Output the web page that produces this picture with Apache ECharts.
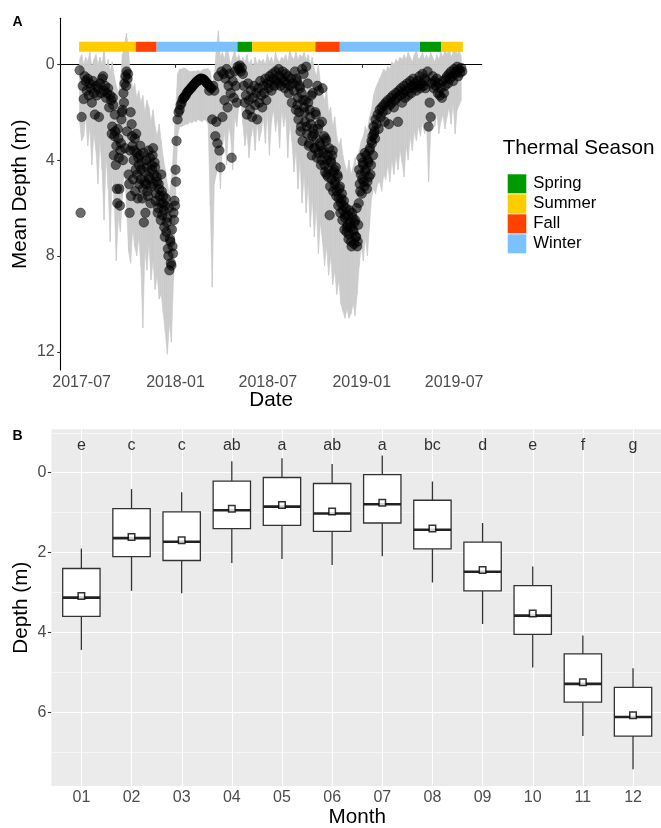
<!DOCTYPE html>
<html>
<head>
<meta charset="utf-8">
<script src="https://cdn.jsdelivr.net/npm/echarts@6/dist/echarts.min.js"></script>
<style>
  html, body { margin: 0; padding: 0; background: #fff; }
  #chart { width: 661px; height: 828px; }
</style>
</head>
<body>
<div id="chart"></div>
<script>
// ---- Panel A data ----
// daily mean depth, one value every 2 days from 2017-06-27
const depthStart = '2017-06-27'
const depthStepDays = 2
const meanDepth = [
  0.25, 6.2, 2.2, 0.9, 1.45, 0.5, 0.7, 1.1, 0.6, 1.3,
  0.8, 1.0, 1.6, 0.7, 1.2, 2.1, 0.9, 1.3, 1.0, 2.2,
  0.8, 1.2, 0.6, 0.5, 1.1, 0.9, 1.4, 1.2, 1.0, 1.8,
  1.3, 1.5, 2.6, 1.7, 3.0, 2.8, 3.4, 5.8, 3.1, 5.2,
  3.6, 2.3, 1.9, 1.2, 0.8, 0.5, 0.3, 0.6, 4.6, 6.2,
  2.0, 2.5, 3.4, 4.0, 3.1, 4.4, 3.7, 5.6, 4.2, 3.8,
  4.8, 4.1, 5.2, 6.6, 4.5, 5.0, 4.3, 5.5, 4.7, 3.9,
  5.1, 4.4, 3.5, 4.6, 4.3, 5.4, 4.9, 6.0, 5.2, 5.8,
  4.6, 6.3, 5.5, 6.8, 5.9, 7.0, 6.4, 8.0, 8.6, 7.4,
  8.4, 7.6, 6.2, 5.7, 4.4, 3.2, 2.3, 2.0, 1.9, 1.7,
  1.6, 1.45, 1.4, 1.35, 1.3, 1.2, 1.15, 1.1, 1.05, 1.0,
  0.95, 0.9, 0.85, 0.8, 0.75, 0.7, 0.7, 0.65, 0.6, 0.6,
  0.6, 0.62, 0.65, 0.7, 0.75, 0.8, 0.85, 1.1, 0.95, 1.0,
  2.3, 0.9, 1.1, 3.0, 2.4, 3.3, 0.5, 3.6, 4.3, 0.3,
  2.2, 0.4, 1.5, 0.6, 0.2, 1.8, 0.9, 0.4, 1.2, 3.9,
  0.7, 1.4, 0.3, 0.9, 1.6, 0.1, 0.2, 0.05, 0.3, 0.15,
  0.4, 0.9, 1.6, 1.3, 2.1, 0.8, 1.5, 1.9, 1.1, 2.2,
  1.4, 0.9, 1.7, 1.2, 2.3, 1.0, 1.6, 0.7, 1.3, 1.8,
  0.9, 1.2, 0.6, 1.5, 0.8, 1.0, 0.5, 0.7, 1.1, 0.4,
  0.6, 0.9, 0.3, 0.7, 0.8, 0.2, 0.5, 0.9, 0.6, 0.3,
  0.7, 1.0, 0.4, 0.8, 0.5, 1.2, 0.9, 0.6, 1.6, 0.8,
  1.1, 0.3, 1.9, 0.7, 1.4, 2.0, 1.0, 2.6, 0.2, 1.5,
  1.8, 2.4, 0.1, 2.9, 1.6, 3.3, 2.2, 1.3, 3.0, 2.7,
  3.5, 2.0, 3.1, 0.9, 3.7, 2.5, 3.4, 4.0, 1.0, 3.6,
  4.2, 3.1, 4.6, 3.8, 4.4, 6.3, 4.0, 4.8, 3.6, 4.5,
  5.0, 4.3, 5.3, 4.7, 5.6, 5.1, 5.8, 5.4, 6.1, 5.7,
  6.4, 6.0, 6.8, 6.3, 7.1, 6.6, 7.4, 6.2, 6.9, 7.5,
  6.5, 7.2, 7.6, 6.7, 4.4, 5.3, 3.9, 4.8, 4.2, 5.1,
  4.5, 3.8, 4.9, 4.1, 3.6, 4.6, 3.2, 3.0, 2.6, 2.8,
  2.3, 2.5, 2.1, 2.7, 1.9, 2.2, 1.8, 2.0, 1.7, 2.4,
  1.6, 1.9, 1.5, 2.5, 1.7, 1.4, 1.6, 1.3, 1.8, 1.5,
  1.2, 1.4, 2.4, 1.1, 1.3, 1.0, 1.6, 1.2, 0.9, 1.4,
  1.1, 0.8, 1.3, 1.0, 0.7, 1.2, 0.9, 0.6, 1.0, 0.8,
  1.1, 0.7, 0.9, 0.5, 1.0, 0.8, 0.4, 0.9, 0.6, 1.0,
  0.7, 0.3, 2.6, 1.6, 2.2, 0.8, 0.5, 1.0, 0.7, 0.9,
  0.6, 1.2, 0.8, 1.3, 1.0, 1.4, 0.7, 1.2, 0.9, 0.6,
  0.5, 0.8, 0.4, 0.6, 0.3, 0.5, 0.7, 0.2, 0.4, 0.3,
  0.1, 0.5, 0.2, 0.35, 0.15, 0.3
]
// in-between days of the two deep periods, every 2 days
const trough1Start = '2017-08-29'
const trough1Depth = [
  2.9, 1.4, 3.8, 2.1, 4.2, 5.2, 2.7, 3.9, 5.9, 3.3,
  2.0, 4.0, 1.6, 3.5, 0.9, 2.8, 0.4, 5.0, 3.6, 5.5,
  3.0, 4.8, 3.6, 5.3, 2.9, 4.6, 3.9, 5.0, 3.4, 4.4,
  5.6, 3.7, 4.9, 6.2, 4.0, 5.3, 3.6, 4.8, 5.8, 4.2,
  3.8, 5.0, 4.1, 5.7, 4.7, 6.2, 5.0, 5.5, 6.5, 5.3,
  5.8, 6.1, 7.2, 5.6, 6.6, 7.7, 6.0, 7.3, 8.3, 6.9,
  7.9, 6.5, 5.9, 4.9
]
const trough2Start = '2018-08-26'
const trough2Depth = [
  0.6, 1.7, 2.3, 0.9, 2.8, 1.2, 3.2, 0.4, 2.0, 1.5,
  2.6, 0.8, 3.4, 1.9, 2.5, 3.8, 1.2, 2.9, 3.5, 2.1,
  3.9, 2.7, 1.1, 3.3, 4.2, 2.4, 3.7, 3.0, 4.5, 3.2,
  4.0, 4.7, 3.5, 5.1, 4.1, 3.8, 5.3, 4.4, 4.9, 5.5,
  4.6, 5.9, 5.2, 6.2, 5.6, 6.5, 5.9, 6.9, 6.3, 7.0,
  6.7, 7.3, 6.1, 6.8, 7.6, 6.4, 7.0, 6.6, 7.2, 6.0,
  7.4, 5.8, 5.0, 4.6, 5.4, 4.1, 4.9, 3.7, 4.4, 5.2,
  4.0, 4.7, 3.5, 4.2, 3.3, 3.8, 2.9, 3.1
]

// depth range band (shallow / deep edge), one value every 4 days from 2017-06-27
const ribbonStart = '2017-06-27'
const ribbonStepDays = 4
const ribbonMin = [
  -0.2, -0.4, 0.0, -0.3, -0.1, -0.5, 0.1, -0.2, -0.4, 0.0,
  -0.3, 0.0, -0.6, 0.2, -0.2, 0.3, -0.1, 0.5, 0.9, 1.2,
  0.6, -0.4, -0.8, -1.3, -0.5, 0.4, 1.0, 0.8, 1.4, 1.1,
  1.6, 1.3, 2.0, 1.5, 1.8, 2.4, 1.9, 2.6, 3.0, 2.5,
  3.2, 3.9, 4.4, 5.0, 5.4, 4.8, 3.6, 2.0, 0.4, 0.2,
  0.2, 0.15, 0.18, 0.25, 0.3, 0.3, 0.28, 0.3, 0.25, 0.3,
  0.25, 0.2, 0.2, 0.18, 0.3, 0.9, 0.5, -0.6, -1.4, -0.3,
  -0.5, -0.2, -0.8, -0.4, 0.0, -0.3, -0.6, -0.2, -0.4, -0.1,
  -0.3, -0.1, -0.4, 0.0, -0.2, 0.1, -0.3, 0.0, -0.2, -0.1,
  -0.2, 0.0, -0.4, -0.1, -0.3, 0.0, -0.5, -0.2, -0.1, -0.3,
  -0.2, -0.4, -0.1, -0.6, -0.3, -0.2, -0.5, -0.2, -0.4, -0.3,
  -0.5, -0.2, -0.4, 0.0, -0.3, 0.2, 0.5, 0.0, 0.8, 1.2,
  1.5, 1.0, 2.0, 1.8, 2.6, 2.2, 3.0, 3.4, 3.1, 3.8,
  4.2, 4.5, 4.0, 4.6, 4.3, 3.9, 4.4, 3.6, 3.2, 3.0,
  2.6, 2.8, 2.2, 1.9, 1.3, 1.0, 0.8, 0.6, 0.4, 0.2,
  0.3, 0.1, 0.2, -0.1, 0.0, -0.2, -0.1, -0.3, -0.2, -0.4,
  -0.2, -0.5, -0.3, -0.1, -0.4, -0.6, -0.2, -0.3, -0.5, -0.2,
  -0.4, -0.2, -0.5, -0.3, -0.1, -0.4, -0.2, -0.5, -0.3, -0.6,
  -0.4, -0.7, -0.3, -0.5, -0.8, -0.4, -0.6, -0.3
]
const ribbonMax = [
  2.4, 3.2, 3.0, 2.2, 3.4, 2.6, 4.2, 2.9, 3.6, 5.0,
  3.2, 4.4, 6.5, 3.8, 5.2, 7.4, 4.6, 5.8, 8.2, 6.4,
  7.0, 5.5, 4.2, 6.0, 7.8, 8.3, 6.9, 7.6, 8.0, 7.2,
  8.4, 11.0, 7.8, 8.6, 7.5, 9.0, 8.2, 9.4, 8.8, 9.8,
  9.6, 10.4, 11.2, 12.1, 10.8, 11.6, 9.0, 5.6, 3.0, 2.6,
  2.6, 2.55, 2.5, 2.5, 2.4, 2.45, 2.35, 2.4, 2.3, 2.35,
  2.4, 2.3, 2.35, 2.5, 5.9, 9.3, 5.0, 4.6, 3.8, 5.2,
  3.5, 2.8, 4.2, 2.6, 3.0, 4.4, 2.2, 2.6, 1.8, 1.4,
  2.5, 3.4, 2.8, 3.9, 3.0, 2.6, 3.6, 2.4, 3.2, 2.8,
  2.2, 3.3, 2.0, 3.8, 2.4, 1.9, 2.8, 2.2, 3.5, 1.9,
  2.6, 2.1, 3.9, 2.4, 3.2, 4.5, 3.6, 5.2, 4.0, 5.8,
  4.6, 6.2, 5.0, 6.8, 5.6, 7.2, 6.0, 7.9, 6.6, 7.4,
  8.4, 7.6, 8.8, 8.0, 9.2, 8.6, 9.6, 9.0, 10.0, 10.3,
  10.6, 10.2, 10.6, 10.4, 10.0, 10.5, 9.6, 8.4, 7.6, 8.2,
  7.2, 8.0, 6.8, 5.6, 5.2, 5.4, 5.0, 4.9, 5.3, 4.6,
  4.8, 4.2, 4.9, 4.0, 4.6, 3.8, 4.4, 3.6, 4.1, 4.7,
  3.4, 4.0, 3.0, 3.6, 2.8, 3.2, 2.6, 3.0, 2.4, 2.9,
  2.6, 4.9, 2.8, 2.2, 2.6, 2.0, 2.9, 2.4, 2.1, 2.7,
  2.2, 1.8, 2.5, 1.6, 2.9, 1.9, 1.7, 1.5
]

// thermal season periods
const seasonNames = ['Spring', 'Summer', 'Fall', 'Winter']
const seasonColors = ['#009a00', '#ffcc00', '#ff4200', '#7cc1ff']
const periodSeason = ['Summer', 'Fall', 'Winter', 'Spring', 'Summer', 'Fall', 'Winter', 'Spring', 'Summer']
const periodStart = ['2017-06-26', '2017-10-15', '2017-11-25', '2018-05-02', '2018-05-31', '2018-10-02', '2018-11-19', '2019-04-25', '2019-06-06']
const periodEnd = ['2017-10-15', '2017-11-25', '2018-05-02', '2018-05-31', '2018-10-02', '2018-11-19', '2019-04-25', '2019-06-06', '2019-07-18']

const dateTicks = ['2017-07-01', '2018-01-01', '2018-07-01', '2019-01-01', '2019-07-01']

// ---- Panel B data ----
const months = ['01', '02', '03', '04', '05', '06', '07', '08', '09', '10', '11', '12']
const whiskerTop = [1.90, 0.41, 0.49, -0.29, -0.36, -0.22, -0.43, 0.22, 1.26, 2.35, 4.08, 4.90]
const boxQ1 = [2.40, 0.90, 0.98, 0.21, 0.12, 0.27, 0.05, 0.69, 1.74, 2.83, 4.54, 5.38]
const boxMedian = [3.13, 1.64, 1.73, 0.94, 0.85, 1.02, 0.79, 1.43, 2.48, 3.58, 5.29, 6.12]
const boxQ3 = [3.60, 2.10, 2.20, 1.40, 1.32, 1.47, 1.26, 1.91, 2.96, 4.05, 5.75, 6.60]
const whiskerBottom = [4.44, 2.96, 3.02, 2.26, 2.16, 2.31, 2.09, 2.75, 3.79, 4.88, 6.60, 7.43]
const monthMean = [3.09, 1.61, 1.69, 0.90, 0.81, 0.97, 0.75, 1.40, 2.44, 3.53, 5.25, 6.08]
const groupLetters = ['e', 'c', 'c', 'ab', 'a', 'ab', 'a', 'bc', 'd', 'e', 'f', 'g']

// ---- helpers ----
const FONT = 'Liberation Sans'
const DAY = 86400000
function toTime(s) {
  const p = s.split('-').map(Number)
  return new Date(p[0], p[1] - 1, p[2]).getTime()
}
function fmtMonth(v) {
  const d = new Date(v)
  return d.getFullYear() + '-' + String(d.getMonth() + 1).padStart(2, '0')
}
function series2day(start, values) {
  const t0 = toTime(start)
  return values.map((v, i) => [t0 + i * depthStepDays * DAY, v])
}

const depthPoints = series2day(depthStart, meanDepth)
  .concat(series2day(trough1Start, trough1Depth))
  .concat(series2day(trough2Start, trough2Depth))

const ribbonT0 = toTime(ribbonStart)
// one band piece between consecutive samples: [t0, min0, max0, t1, min1, max1]
const ribbonPieces = ribbonMin.slice(0, -1).map((v, i) => [
  ribbonT0 + i * ribbonStepDays * DAY, v, ribbonMax[i],
  ribbonT0 + (i + 1) * ribbonStepDays * DAY, ribbonMin[i + 1], ribbonMax[i + 1]
])

const seasonBarTop = -0.94
const seasonBarBottom = -0.52

const seasonSeries = seasonNames.map((name, si) => ({
  type: 'custom',
  name: name,
  xAxisIndex: 0,
  yAxisIndex: 0,
  z: 5,
  silent: true,
  itemStyle: { color: seasonColors[si] },
  encode: { x: [0, 1] },
  data: periodSeason
    .map((s, i) => (s === name ? [toTime(periodStart[i]), toTime(periodEnd[i])] : null))
    .filter(d => d),
  renderItem(params, api) {
    const a = api.coord([api.value(0), seasonBarTop])
    const b = api.coord([api.value(1), seasonBarBottom])
    return {
      type: 'rect',
      shape: { x: a[0], y: a[1], width: b[0] - a[0], height: b[1] - a[1] },
      style: { fill: seasonColors[si] }
    }
  }
}))

// gridlines of panel B (theme_gray look)
const gridLines = []
for (let m = 1; m <= 12; m++) gridLines.push({ xAxis: m, lineStyle: { width: 1.1 } })
;[0, 2, 4, 6].forEach(v => gridLines.push({ yAxis: v, lineStyle: { width: 1.1 } }))
;[-1, 1, 3, 5, 7].forEach(v => gridLines.push({ yAxis: v, lineStyle: { width: 0.55 } }))

const boxData = months.map((m, i) => [i, whiskerTop[i], boxQ1[i], boxMedian[i], boxQ3[i], whiskerBottom[i]])

const chart = echarts.init(document.getElementById('chart'))

const option = {
  animation: false,
  textStyle: { fontFamily: FONT },
  graphic: [
    { type: 'text', x: 12.5, y: 22.5, style: { text: 'A', font: 'bold 14px ' + FONT, fill: '#000', verticalAlign: 'middle' } },
    { type: 'text', x: 12.5, y: 436, style: { text: 'B', font: 'bold 14px ' + FONT, fill: '#000', verticalAlign: 'middle' } },
    { type: 'text', x: 502.7, y: 148.5, style: { text: 'Thermal Season', font: '20.7px ' + FONT, fill: '#000', verticalAlign: 'middle' } }
  ],
  legend: {
    left: 502.7,
    top: 169.3,
    orient: 'vertical',
    icon: 'rect',
    itemWidth: 18.6,
    itemHeight: 19,
    itemGap: 1,
    selectedMode: false,
    data: seasonNames,
    textStyle: { fontSize: 16.7, color: '#000', fontFamily: FONT, padding: [0, 0, 0, 2] }
  },
  grid: [
    { left: 60.7, top: 18.3, width: 421, height: 351.7, outerBoundsMode: 'none' },
    { left: 51.4, top: 429.3, width: 609.6, height: 356.7, show: true, backgroundColor: '#ebebeb', borderWidth: 0, outerBoundsMode: 'none' },
    { left: 56.3, top: 429.3, width: 601.8, height: 356.7, outerBoundsMode: 'none' }
  ],
  xAxis: [
    {
      type: 'value',
      gridIndex: 0,
      min: toTime('2017-05-21'),
      max: toTime('2019-08-24'),
      name: 'Date',
      nameLocation: 'middle',
      nameGap: 20,
      nameMoveOverlap: false,
      nameTextStyle: { fontSize: 20.7, color: '#000', fontFamily: FONT },
      axisLine: { lineStyle: { color: '#000', width: 1.1 } },
      axisTick: { length: 3.5, lineStyle: { color: '#333', width: 1.1 }, customValues: dateTicks.map(toTime) },
      axisLabel: { customValues: dateTicks.map(toTime), formatter: fmtMonth, fontSize: 16, color: '#4d4d4d', margin: 4.5, fontFamily: FONT },
      splitLine: { show: false }
    },
    {
      type: 'value',
      gridIndex: 1,
      min: 0.4,
      max: 12.555,
      show: false
    },
    {
      type: 'category',
      gridIndex: 2,
      data: months,
      name: 'Month',
      nameLocation: 'middle',
      nameGap: 20.5,
      nameMoveOverlap: false,
      nameTextStyle: { fontSize: 20.7, color: '#000', fontFamily: FONT },
      axisLine: { show: false },
      axisTick: { alignWithLabel: true, length: 3.5, lineStyle: { color: '#333', width: 1.1 } },
      axisLabel: { fontSize: 16, color: '#4d4d4d', margin: 3.5, fontFamily: FONT, interval: 0 },
      splitLine: { show: false }
    }
  ],
  yAxis: [
    {
      type: 'value',
      gridIndex: 0,
      inverse: true,
      min: -1.92,
      max: 12.76,
      name: 'Mean Depth (m)',
      nameLocation: 'middle',
      nameGap: 29.5,
      nameMoveOverlap: false,
      nameTextStyle: { fontSize: 20.7, color: '#000', fontFamily: FONT },
      axisLine: { show: true, lineStyle: { color: '#000', width: 1.1 } },
      axisTick: { show: true, length: 3.5, lineStyle: { color: '#333', width: 1.1 }, customValues: [0, 4, 8, 12] },
      axisLabel: { customValues: [0, 4, 8, 12], fontSize: 16, color: '#4d4d4d', margin: 6, fontFamily: FONT },
      splitLine: { show: false }
    },
    {
      type: 'value',
      gridIndex: 1,
      inverse: true,
      min: -1.088,
      max: 7.85,
      name: 'Depth (m)',
      nameLocation: 'middle',
      nameGap: 19.5,
      nameMoveOverlap: false,
      nameTextStyle: { fontSize: 20.7, color: '#000', fontFamily: FONT },
      axisLine: { show: false },
      axisTick: { show: true, length: 3.5, lineStyle: { color: '#333', width: 1.1 }, customValues: [0, 2, 4, 6] },
      axisLabel: { customValues: [0, 2, 4, 6], fontSize: 16, color: '#4d4d4d', margin: 5, fontFamily: FONT },
      splitLine: { show: false }
    },
    {
      type: 'value',
      gridIndex: 2,
      inverse: true,
      min: -1.088,
      max: 7.85,
      show: false
    }
  ],
  series: [
    {
      type: 'custom',
      name: 'depthRange',
      xAxisIndex: 0,
      yAxisIndex: 0,
      z: 1,
      silent: true,
      encode: { x: [0, 3], y: [1, 2, 4, 5] },
      data: ribbonPieces,
      renderItem(params, api) {
        const p1 = api.coord([api.value(0), api.value(1)])
        const p2 = api.coord([api.value(3), api.value(4)])
        const p3 = api.coord([api.value(3), api.value(5)])
        const p4 = api.coord([api.value(0), api.value(2)])
        return {
          type: 'polygon',
          shape: { points: [p1, p2, p3, p4] },
          style: { fill: '#cbcbcb', stroke: '#cbcbcb', lineWidth: 0.6 }
        }
      }
    },
    {
      type: 'scatter',
      name: 'meanDepth',
      xAxisIndex: 0,
      yAxisIndex: 0,
      data: depthPoints,
      symbolSize: 9.5,
      itemStyle: { color: 'rgba(0,0,0,0.72)', borderColor: 'rgba(0,0,0,0.8)', borderWidth: 0.6 },
      z: 2
    },
    ...seasonSeries,
    {
      type: 'line',
      name: 'gridB',
      xAxisIndex: 1,
      yAxisIndex: 1,
      data: [],
      silent: true,
      z: 1,
      markLine: {
        silent: true,
        z: 1,
        symbol: ['none', 'none'],
        label: { show: false },
        animation: false,
        lineStyle: { color: '#ffffff', type: 'solid' },
        data: gridLines
      }
    },
    {
      type: 'custom',
      name: 'boxes',
      xAxisIndex: 2,
      yAxisIndex: 2,
      z: 3,
      silent: true,
      encode: { x: 0, y: [1, 2, 3, 4, 5] },
      data: boxData,
      renderItem(params, api) {
        const i = api.value(0)
        const xc = api.coord([i, 0])[0]
        const half = api.size([1, 0])[0] * 0.745 / 2
        const yHi = api.coord([i, api.value(1)])[1]
        const yQ1 = api.coord([i, api.value(2)])[1]
        const yMed = api.coord([i, api.value(3)])[1]
        const yQ3 = api.coord([i, api.value(4)])[1]
        const yLo = api.coord([i, api.value(5)])[1]
        const st = { stroke: '#333', lineWidth: 1.3 }
        return {
          type: 'group',
          children: [
            { type: 'line', shape: { x1: xc, y1: yHi, x2: xc, y2: yQ1 }, style: st },
            { type: 'line', shape: { x1: xc, y1: yQ3, x2: xc, y2: yLo }, style: st },
            { type: 'rect', shape: { x: xc - half, y: yQ1, width: half * 2, height: yQ3 - yQ1 }, style: { fill: '#fff', stroke: '#333', lineWidth: 1.3 } },
            { type: 'line', shape: { x1: xc - half, y1: yMed, x2: xc + half, y2: yMed }, style: { stroke: '#222', lineWidth: 2.6 } }
          ]
        }
      }
    },
    {
      type: 'scatter',
      name: 'monthMean',
      xAxisIndex: 2,
      yAxisIndex: 2,
      data: monthMean.map((v, i) => [i, v]),
      symbol: 'rect',
      symbolSize: 6.5,
      itemStyle: { color: '#fff', borderColor: '#000', borderWidth: 1.5 },
      z: 4
    },
    {
      type: 'scatter',
      name: 'letters',
      xAxisIndex: 2,
      yAxisIndex: 2,
      data: groupLetters.map((l, i) => [i, -0.67]),
      symbolSize: 1,
      itemStyle: { color: 'rgba(0,0,0,0)' },
      label: {
        show: true,
        position: 'inside',
        formatter: p => groupLetters[p.dataIndex],
        fontSize: 16,
        color: '#000',
        fontFamily: FONT
      },
      z: 4
    }
  ]
}

chart.setOption(option)
</script>
</body>
</html>
